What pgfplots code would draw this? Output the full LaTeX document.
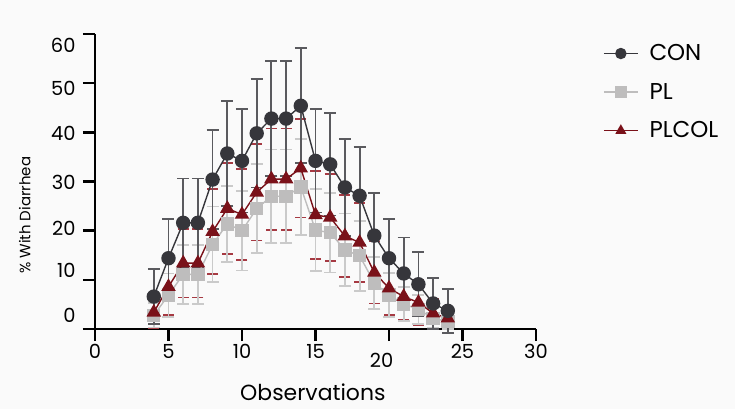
\documentclass[border=0pt]{standalone}
\usepackage{pgfplots}
\pgfplotsset{compat=1.18}
\usepackage{pgfplotstable}
\usepackage{xcolor}
\usepackage{fontspec}
\setmainfont{Poppins}

\definecolor{bgc}{HTML}{FAFAFA}
\definecolor{conc}{HTML}{36363B}
\definecolor{conerr}{HTML}{5A5A5E}
\definecolor{plc}{HTML}{BEBDBD}
\definecolor{plerr}{HTML}{CACACA}
\definecolor{colc}{HTML}{7A1119}
\definecolor{colerr}{HTML}{A63A43}
\pagecolor{bgc}

% x  mean  err
\pgfplotstableread{
x y e
4 6.6 5.6
5 14.4 8.0
6 21.6 9.0
7 21.6 9.0
8 30.4 10.1
9 35.7 10.7
10 34.2 10.5
11 39.8 11.0
12 42.8 11.7
13 42.8 11.7
14 45.4 11.7
15 34.2 10.5
16 33.5 10.4
17 28.8 9.9
18 27.1 9.9
19 19.0 8.7
20 14.4 8.0
21 11.3 7.3
22 9.1 6.5
23 5.2 5.2
24 3.7 4.5
}\con

\pgfplotstableread{
x y e
4 2.8 2.5
5 6.9 4.4
6 11.1 6.0
7 11.1 6.0
8 17.2 7.7
9 21.4 7.7
10 20.0 8.1
11 24.5 9.0
12 27.0 9.5
13 27.0 9.5
14 28.9 9.7
15 20.1 8.3
16 19.6 8.1
17 16.1 7.4
18 14.9 7.1
19 9.4 5.3
20 6.9 4.5
21 5.1 3.5
22 4.0 3.0
23 2.2 2.0
24 1.5 1.5
}\pl

\pgfplotstableread{
x y e
4 3.4 3.3
5 8.6 5.8
6 13.4 7.0
7 13.4 7.0
8 19.8 8.6
9 24.5 9.2
10 23.3 9.2
11 27.8 9.8
12 30.5 10.3
13 30.5 10.3
14 32.7 10.0
15 23.2 9.0
16 22.7 8.9
17 18.9 8.4
18 17.6 8.1
19 11.5 6.3
20 8.3 5.5
21 6.6 4.8
22 5.4 4.6
23 3.2 3.0
24 2.2 2.0
}\plcol

\begin{document}
\begin{tikzpicture}
\begin{axis}[
    scale only axis=true,
    width=441bp, height=295bp,
    xmin=0, xmax=30, ymin=0, ymax=60,
    clip=false,
    axis x line=bottom, axis y line=left,
    axis line style={line width=2.4bp, -},
    tick align=outside,
    major tick length=12bp,
    tick style={line width=2.4bp, black},
    xtick={0,5,...,30},
    xticklabels={0,5,10,15,,25,30},
    extra x ticks={19.5},
    extra x tick labels={20},
    extra x tick style={major tick length=0pt, tick style={draw=none},
        xticklabel style={yshift=-21bp}},
    ytick={0,10,...,60},
    yticklabels={},
    extra y ticks={2.8,12,20.5,29.9,39.8,49,57.7},
    extra y tick labels={0,10,20,30,40,50,60},
    extra y tick style={major tick length=0pt, tick style={draw=none},
        yticklabel style={xshift=-16bp}},
    /pgf/number format/assume math mode=true,
    ticklabel style={font=\fontsize{19.5}{19.5}\selectfont},
    xlabel={Observations},
    xlabel style={at={(rel axis cs:0.494,-0.2136)}, anchor=center,
        font=\fontsize{22}{22}\selectfont},
    ylabel={\% With Diarrhea},
    ylabel style={at={(rel axis cs:-0.159,0.386)}, anchor=center,
        font=\fontsize{15}{15}\selectfont},
    legend style={draw=none, fill=none, at={(rel axis cs:1.145,0.978)},
        anchor=north west, font=\fontsize{23}{23}\selectfont,
        row sep=17bp, cells={anchor=west},
        /tikz/every odd column/.append style={column sep=9bp}},
    legend image code/.code={
        \draw[mark repeat=2, mark phase=2, #1, mark size=5bp]
            plot coordinates {(0bp,0bp) (17bp,0bp) (34bp,0bp)};},
]
\path (rel axis cs:-0.2154,-0.2712) rectangle (rel axis cs:1.4512,1.1153);
\draw[line width=2.4bp] (axis cs:-0.82,0) -- (axis cs:0,0);

\addlegendimage{conc, line width=1.4bp, mark=*, mark options={fill=conc, draw=conc}}
\addlegendentry{CON}
\addlegendimage{plc, line width=1.4bp, mark=square*, mark options={fill=plc, draw=plc}}
\addlegendentry{PL}
\addlegendimage{colc, line width=1.4bp, mark=triangle*, mark options={fill=colc, draw=colc}}
\addlegendentry{PLCOL}

% error bars first: PLCOL, PL, CON
\addplot[forget plot, draw=none, mark=none,
    error bars/.cd, y dir=both, y explicit,
    error bar style={colerr, line width=1.8bp},
    error mark options={colerr, line width=1.8bp, mark size=5.5bp, rotate=90}]
    table[x=x, y=y, y error=e] {\plcol};
\addplot[forget plot, draw=none, mark=none,
    error bars/.cd, y dir=both, y explicit,
    error bar style={plerr, line width=1.8bp},
    error mark options={plerr, line width=1.8bp, mark size=6bp, rotate=90}]
    table[x=x, y=y, y error=e] {\pl};
\addplot[forget plot, draw=none, mark=none,
    error bars/.cd, y dir=both, y explicit,
    error bar style={conerr, line width=1.8bp},
    error mark options={conerr, line width=1.8bp, mark size=6bp, rotate=90}]
    table[x=x, y=y, y error=e] {\con};

% lines and markers
\addplot[forget plot, plc, line width=1.4bp, mark=square*, mark size=6bp,
    mark options={fill=plc, draw=plc}]
    table[x=x, y=y] {\pl};
\addplot[forget plot, colc, line width=1.4bp, mark=triangle*, mark size=7bp,
    mark options={fill=colc, draw=colc}]
    table[x=x, y=y] {\plcol};
\addplot[forget plot, conc, line width=1.4bp, mark=*, mark size=6.5bp,
    mark options={fill=conc, draw=conc}]
    table[x=x, y=y] {\con};
\end{axis}
\end{tikzpicture}
\end{document}
